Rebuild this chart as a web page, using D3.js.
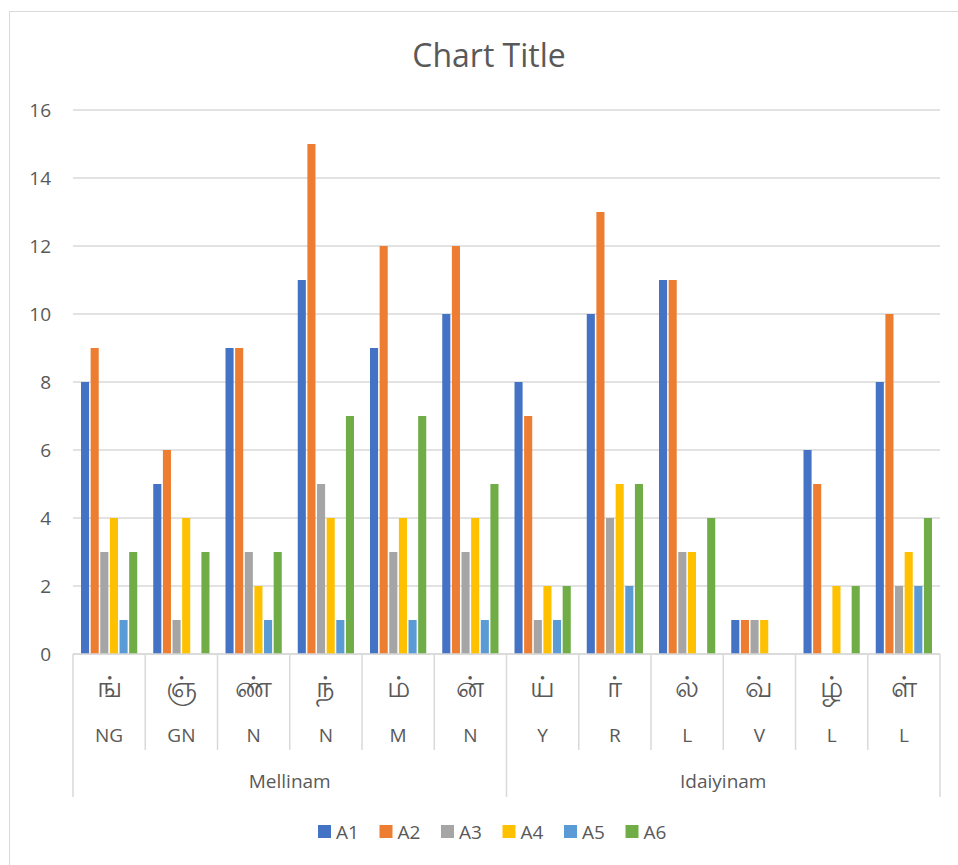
<!DOCTYPE html>
<html>
<head>
<meta charset="utf-8">
<title>Chart Title</title>
<style>
  body { margin: 0; background: #fff; }
  text { font-family: "Open Sans", "Noto Sans", sans-serif; fill: #595959; }
</style>
</head>
<body>
<script src="https://d3js.org/d3.v7.min.js"></script>
<script>
  // data
  var tamil = ["ங்", "ஞ்", "ண்", "ந்", "ம்", "ன்", "ய்", "ர்", "ல்", "வ்", "ழ்", "ள்"];
  var latin = ["NG", "GN", "N", "N", "M", "N", "Y", "R", "L", "V", "L", "L"];
  var groups = ["Mellinam", "Idaiyinam"];
  var groupSize = [6, 6];
  var seriesNames = ["A1", "A2", "A3", "A4", "A5", "A6"];
  var A1 = [8, 5, 9, 11, 9, 10, 8, 10, 11, 1, 6, 8];
  var A2 = [9, 6, 9, 15, 12, 12, 7, 13, 11, 1, 5, 10];
  var A3 = [3, 1, 3, 5, 3, 3, 1, 4, 3, 1, 0, 2];
  var A4 = [4, 4, 2, 4, 4, 4, 2, 5, 3, 1, 2, 3];
  var A5 = [1, 0, 1, 1, 1, 1, 1, 2, 0, 0, 0, 2];
  var A6 = [3, 3, 3, 7, 7, 5, 2, 5, 4, 0, 2, 4];
  var yTicks = [0, 2, 4, 6, 8, 10, 12, 14, 16];
  var colors = ["#4472c4", "#ed7d31", "#a5a5a5", "#ffc000", "#5b9bd5", "#70ad47"];

  var series = [A1, A2, A3, A4, A5, A6];
  var W = 958, H = 865;
  var plotL = 73, plotR = 940, plotT = 110, plotB = 654;

  var svg = d3.select("body").append("svg").attr("width", W).attr("height", H);

  // chart border
  svg.append("rect").attr("x", 9.5).attr("y", 11.5).attr("width", 1000).attr("height", 1000)
    .attr("fill", "none").attr("stroke", "#d9d9d9").attr("stroke-width", 1);

  svg.append("text").attr("x", 489).attr("y", 67).attr("text-anchor", "middle")
    .style("font-size", "32px").text("Chart Title");

  var idx = d3.range(tamil.length);
  var x = d3.scaleBand().domain(idx).range([plotL, plotR]).paddingInner(0).paddingOuter(0);
  var y = d3.scaleLinear().domain([0, 16]).range([plotB, plotT]);
  var xs = d3.scaleBand().domain(d3.range(series.length)).range([8, x.bandwidth() - 8]).paddingInner(0.16);

  // gridlines
  svg.append("g").selectAll("line").data(yTicks).enter().append("line")
    .attr("x1", plotL).attr("x2", plotR)
    .attr("y1", function(d) { return y(d); }).attr("y2", function(d) { return y(d); })
    .attr("stroke", "#d9d9d9").attr("stroke-width", 1.5);

  // y axis labels
  var yAxis = d3.axisLeft(y).tickValues(yTicks).tickSize(0).tickPadding(0);
  var ya = svg.append("g").attr("transform", "translate(" + (plotL - 22) + ",0)").call(yAxis);
  ya.select(".domain").remove();
  ya.selectAll("text").style("font-size", "19px").attr("fill", "#595959")
    .style("font-family", "'Open Sans', sans-serif");

  // bars
  series.forEach(function(vals, s) {
    svg.append("g").selectAll("rect").data(vals).enter().append("rect")
      .attr("x", function(d, i) { return x(i) + xs(s); })
      .attr("width", xs.bandwidth())
      .attr("y", function(d) { return y(d); })
      .attr("height", function(d) { return y(0) - y(d); })
      .attr("fill", colors[s]);
  });

  // category axis
  var axisG = svg.append("g").attr("stroke", "#d9d9d9").attr("stroke-width", 1.5);
  axisG.append("line").attr("x1", plotL).attr("x2", plotR).attr("y1", plotB).attr("y2", plotB);
  var starts = [0];
  groupSize.forEach(function(n, i) { starts.push(starts[i] + n); });
  idx.concat([tamil.length]).forEach(function(i) {
    var xx = i < tamil.length ? x(i) : plotR;
    var long = starts.indexOf(i) >= 0;
    axisG.append("line").attr("x1", xx).attr("x2", xx).attr("y1", plotB).attr("y2", long ? 797 : 750);
  });

  svg.append("g").selectAll("text").data(tamil).enter().append("text")
    .attr("x", function(d, i) { return x(i) + x.bandwidth() / 2; })
    .attr("y", 697).attr("text-anchor", "middle").style("font-size", "29px").text(function(d) { return d; });

  svg.append("g").selectAll("text").data(latin).enter().append("text")
    .attr("x", function(d, i) { return x(i) + x.bandwidth() / 2; })
    .attr("y", 742).attr("text-anchor", "middle").style("font-size", "19px").text(function(d) { return d; });

  svg.append("g").selectAll("text").data(groups).enter().append("text")
    .attr("x", function(d, i) { return (x(starts[i]) + (starts[i + 1] < tamil.length ? x(starts[i + 1]) : plotR)) / 2; })
    .attr("y", 788).attr("text-anchor", "middle").style("font-size", "19px").text(function(d) { return d; });

  // legend
  var legX = [318, 379.5, 441, 502.5, 564, 625.5];
  var leg = svg.append("g").selectAll("g").data(seriesNames).enter().append("g")
    .attr("transform", function(d, i) { return "translate(" + legX[i] + ",825)"; });
  leg.append("rect").attr("width", 13).attr("height", 13).attr("fill", function(d, i) { return colors[i]; });
  leg.append("text").attr("x", 18).attr("y", 13.5).style("font-size", "19px").text(function(d) { return d; });
</script>
</body>
</html>
